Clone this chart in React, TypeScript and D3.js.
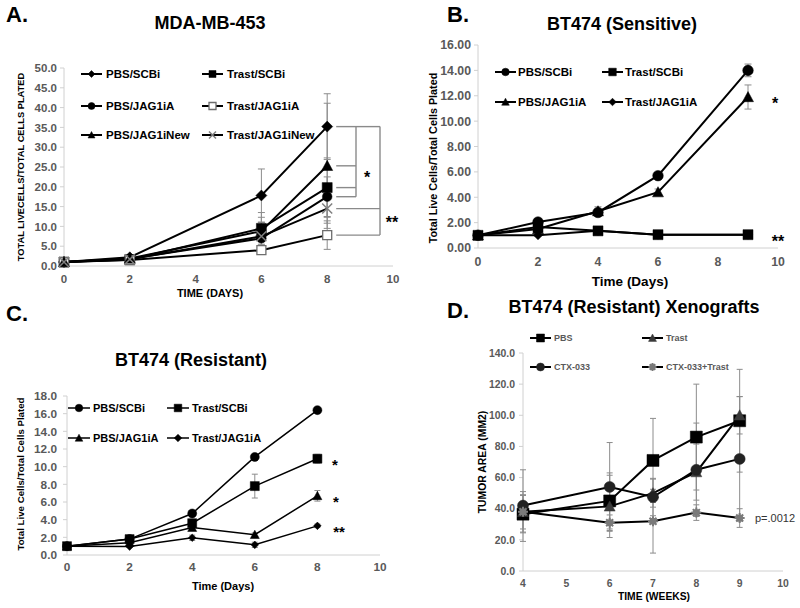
import React from 'react';
import * as d3 from 'd3';

// ---------- Panel A data (MDA-MB-453) ----------
const A_DAYS = [0, 2, 6, 8];
const A_LABELS = ['PBS/SCBi', 'Trast/SCBi', 'PBS/JAG1iA', 'Trast/JAG1iA', 'PBS/JAG1iNew', 'Trast/JAG1iNew'];
const A_PBS_SCBI = [1.0, 2.2, 17.8, 35.2];
const A_PBS_SCBI_ERR = [0.1, 0.3, 6.7, 8.3];
const A_TRAST_SCBI = [1.0, 1.6, 9.5, 19.8];
const A_TRAST_SCBI_ERR = [0.1, 0.2, 4.0, 7.5];
const A_PBS_JAG1IA = [1.0, 1.8, 7.0, 17.5];
const A_PBS_JAG1IA_ERR = [0.1, 0.2, 3.5, 5.0];
const A_TRAST_JAG1IA = [1.0, 1.5, 4.0, 7.8];
const A_TRAST_JAG1IA_ERR = [0.1, 0.1, 0.6, 3.6];
const A_PBS_JAG1INEW = [1.0, 1.9, 8.8, 25.3];
const A_PBS_JAG1INEW_ERR = [0.1, 0.2, 3.5, 15.8];
const A_TRAST_JAG1INEW = [1.0, 1.7, 7.5, 14.5];
const A_TRAST_JAG1INEW_ERR = [0.1, 0.2, 3.5, 3.7];
const A_Y_TICKS = [0, 5, 10, 15, 20, 25, 30, 35, 40, 45, 50];
const A_X_TICKS = [0, 2, 4, 6, 8, 10];

// ---------- Panel B data (BT474 Sensitive) ----------
const B_DAYS = [0, 2, 4, 6, 9];
const B_LABELS = ['PBS/SCBi', 'Trast/SCBi', 'PBS/JAG1iA', 'Trast/JAG1iA'];
const B_PBS_SCBI = [1.0, 2.05, 2.8, 5.7, 14.0];
const B_PBS_SCBI_ERR = [0.05, 0.1, 0.2, 0.15, 0.5];
const B_TRAST_SCBI = [1.0, 1.65, 1.35, 1.05, 1.05];
const B_TRAST_SCBI_ERR = [0.05, 0.05, 0.1, 0.05, 0.05];
const B_PBS_JAG1IA = [1.0, 1.5, 2.9, 4.4, 11.9];
const B_PBS_JAG1IA_ERR = [0.05, 0.1, 0.35, 0.25, 0.95];
const B_TRAST_JAG1IA = [1.0, 1.0, 1.35, 1.05, 1.05];
const B_TRAST_JAG1IA_ERR = [0.05, 0.05, 0.05, 0.05, 0.05];
const B_Y_TICKS = [0, 2, 4, 6, 8, 10, 12, 14, 16];
const B_X_TICKS = [0, 2, 4, 6, 8, 10];

// ---------- Panel C data (BT474 Resistant) ----------
const C_DAYS = [0, 2, 4, 6, 8];
const C_LABELS = ['PBS/SCBi', 'Trast/SCBi', 'PBS/JAG1iA', 'Trast/JAG1iA'];
const C_PBS_SCBI = [1.0, 1.8, 4.7, 11.1, 16.4];
const C_PBS_SCBI_ERR = [0.05, 0.1, 0.2, 0.2, 0.2];
const C_TRAST_SCBI = [1.0, 1.8, 3.6, 7.8, 10.9];
const C_TRAST_SCBI_ERR = [0.05, 0.15, 0.3, 1.35, 0.5];
const C_PBS_JAG1IA = [1.0, 1.4, 3.1, 2.3, 6.7];
const C_PBS_JAG1IA_ERR = [0.05, 0.1, 0.2, 0.2, 0.6];
const C_TRAST_JAG1IA = [1.0, 0.95, 1.95, 1.15, 3.3];
const C_TRAST_JAG1IA_ERR = [0.05, 0.1, 0.3, 0.3, 0.2];
const C_Y_TICKS = [0, 2, 4, 6, 8, 10, 12, 14, 16, 18];
const C_X_TICKS = [0, 2, 4, 6, 8, 10];

// ---------- Panel D data (BT474 Resistant Xenografts) ----------
const D_WEEKS = [4, 6, 7, 8, 9];
const D_LABELS = ['PBS', 'Trast', 'CTX-033', 'CTX-033+Trast'];
const D_PBS = [36.5, 45, 71, 86, 96.5];
const D_PBS_ERR = [12, 18, 27, 34, 33];
const D_TRAST = [38, 41.5, 50, 63.5, 100];
const D_TRAST_ERR = [11, 20, 9, 18, 12];
const D_CTX = [42, 54, 47.5, 65, 72];
const D_CTX_ERR = [23, 28.5, 12, 30, 40];
const D_CTX_TRAST = [38, 31, 32, 37.5, 34];
const D_CTX_TRAST_ERR = [13, 5, 20.5, 5, 6];
const D_Y_TICKS = [0, 20, 40, 60, 80, 100, 120, 140];
const D_X_TICKS = [4, 5, 6, 7, 8, 9, 10];

const FONT = 'Liberation Sans, Arial, Helvetica, sans-serif';
const TICK_COLOR = '#595959';
const AXIS_COLOR = '#d0d0d0';
const ERR_COLOR = '#8c8c8c';

type Sym = 'circle' | 'square' | 'openSquare' | 'triangle' | 'diamond' | 'x' | 'asterisk';

function markerPath(sym: Sym, r: number): string {
  switch (sym) {
    case 'circle':
      return d3.symbol().type(d3.symbolCircle).size(Math.PI * r * r)() as string;
    case 'square':
    case 'openSquare':
      return `M${-r},${-r}H${r}V${r}H${-r}Z`;
    case 'triangle':
      return `M0,${-r}L${r},${r * 0.85}L${-r},${r * 0.85}Z`;
    case 'diamond':
      return `M0,${-r}L${r},0L0,${r}L${-r},0Z`;
    case 'x':
      return `M${-r},${-r}L${r},${r}M${r},${-r}L${-r},${r}`;
    case 'asterisk':
      return `M${-r},0H${r}M0,${-r}V${r}M${-r * 0.7},${-r * 0.7}L${r * 0.7},${r * 0.7}M${r * 0.7},${-r * 0.7}L${-r * 0.7},${r * 0.7}`;
  }
}

function Marker({ sym, x, y, r, color }: { sym: Sym; x: number; y: number; r: number; color: string }) {
  const d = markerPath(sym, r);
  if (sym === 'x') {
    return <path d={d} transform={`translate(${x},${y})`} stroke={color} strokeWidth={1.5} fill="none" />;
  }
  if (sym === 'asterisk') {
    return (
      <g transform={`translate(${x},${y})`}>
        <circle r={r * 0.7} fill={color} />
        <path d={d} stroke={color} strokeWidth={2} fill="none" />
      </g>
    );
  }
  if (sym === 'openSquare') {
    return <path d={d} transform={`translate(${x},${y})`} stroke={color} strokeWidth={1.3} fill="#fff" />;
  }
  return <path d={d} transform={`translate(${x},${y})`} fill={color} stroke={color} strokeWidth={0.5} />;
}

interface Series {
  label: string;
  xs: number[];
  ys: number[];
  err: number[];
  sym: Sym;
  color: string;
  r: number;
}

interface LegendItem {
  idx: number;
  lx: number;
  ly: number;
}

interface PanelCfg {
  xDomain: [number, number];
  xRange: [number, number];
  yDomain: [number, number];
  yRange: [number, number];
  xTicks: number[];
  yTicks: number[];
  yFmt: string;
  tickSize: number;
  yLabelGap: number;
  xLabelDy: number;
  series: Series[];
  lineWidth: number;
  legend: LegendItem[];
  legendFont: number;
  legendLine: number;
  legendTextGap: number;
  legendR: number;
  legendColor: string;
  capW: number;
}

function Panel({ cfg }: { cfg: PanelCfg }) {
  const x = d3.scaleLinear().domain(cfg.xDomain).range(cfg.xRange);
  const y = d3.scaleLinear().domain(cfg.yDomain).range(cfg.yRange);
  const fmt = d3.format(cfg.yFmt);
  const line = d3.line<[number, number]>().x((d) => x(d[0])).y((d) => y(d[1]));
  const x0 = cfg.xRange[0];
  const y0 = cfg.yRange[0];
  return (
    <g>
      <line x1={x0} x2={x0} y1={cfg.yRange[0]} y2={cfg.yRange[1]} stroke={AXIS_COLOR} strokeWidth={1} />
      <line x1={x0} x2={cfg.xRange[1]} y1={y0} y2={y0} stroke={AXIS_COLOR} strokeWidth={1} />
      {cfg.yTicks.map((t) => (
        <g key={'y' + t}>
          <line x1={x0 - 4} x2={x0} y1={y(t)} y2={y(t)} stroke={AXIS_COLOR} />
          <text
            x={x0 - cfg.yLabelGap}
            y={y(t)}
            dy="0.36em"
            textAnchor="end"
            fontFamily={FONT}
            fontWeight="bold"
            fontSize={cfg.tickSize}
            fill={TICK_COLOR}
          >
            {fmt(t)}
          </text>
        </g>
      ))}
      {cfg.xTicks.map((t) => (
        <text
          key={'x' + t}
          x={x(t)}
          y={y0 + cfg.xLabelDy}
          textAnchor="middle"
          fontFamily={FONT}
          fontWeight="bold"
          fontSize={cfg.tickSize}
          fill={TICK_COLOR}
        >
          {t}
        </text>
      ))}
      {cfg.series.map((s, si) =>
        s.xs.map((xv, i) => {
          const e = s.err[i];
          if (!e) return null;
          const cx = x(xv);
          const top = y(s.ys[i] + e);
          const bot = y(Math.max(cfg.yDomain[0], s.ys[i] - e));
          return (
            <g key={`e${si}-${i}`} stroke={ERR_COLOR} strokeWidth={1}>
              <line x1={cx} x2={cx} y1={top} y2={bot} />
              <line x1={cx - cfg.capW} x2={cx + cfg.capW} y1={top} y2={top} />
              <line x1={cx - cfg.capW} x2={cx + cfg.capW} y1={bot} y2={bot} />
            </g>
          );
        })
      )}
      {cfg.series.map((s, si) => (
        <path
          key={'l' + si}
          d={line(s.xs.map((xv, i) => [xv, s.ys[i]] as [number, number])) as string}
          fill="none"
          stroke="#000"
          strokeWidth={cfg.lineWidth}
        />
      ))}
      {cfg.series.map((s, si) =>
        s.xs.map((xv, i) => <Marker key={`m${si}-${i}`} sym={s.sym} x={x(xv)} y={y(s.ys[i])} r={s.r} color={s.color} />)
      )}
      {cfg.legend.map((it) => {
        const s = cfg.series[it.idx];
        return (
          <g key={'lg' + it.idx}>
            <line x1={it.lx} x2={it.lx + cfg.legendLine} y1={it.ly} y2={it.ly} stroke="#000" strokeWidth={cfg.lineWidth} />
            <Marker sym={s.sym} x={it.lx + cfg.legendLine / 2} y={it.ly} r={cfg.legendR} color={s.color} />
            <text
              x={it.lx + cfg.legendLine + cfg.legendTextGap}
              y={it.ly}
              dy="0.36em"
              fontFamily={FONT}
              fontWeight="bold"
              fontSize={cfg.legendFont}
              fill={cfg.legendColor}
            >
              {s.label}
            </text>
          </g>
        );
      })}
    </g>
  );
}

function mk(label: string, xs: number[], ys: number[], err: number[], sym: Sym, color: string, r: number): Series {
  return { label, xs, ys, err, sym, color, r };
}

const panelA: PanelCfg = {
  xDomain: [0, 10],
  xRange: [64, 393],
  yDomain: [0, 50],
  yRange: [266, 68],
  xTicks: A_X_TICKS,
  yTicks: A_Y_TICKS,
  yFmt: '.1f',
  tickSize: 11.5,
  yLabelGap: 7,
  xLabelDy: 17,
  lineWidth: 2,
  capW: 3.5,
  series: [
    mk(A_LABELS[0], A_DAYS, A_PBS_SCBI, A_PBS_SCBI_ERR, 'diamond', '#000', 5.5),
    mk(A_LABELS[1], A_DAYS, A_TRAST_SCBI, A_TRAST_SCBI_ERR, 'square', '#000', 5),
    mk(A_LABELS[2], A_DAYS, A_PBS_JAG1IA, A_PBS_JAG1IA_ERR, 'circle', '#000', 4.8),
    mk(A_LABELS[3], A_DAYS, A_TRAST_JAG1IA, A_TRAST_JAG1IA_ERR, 'openSquare', '#6e6e6e', 4.5),
    mk(A_LABELS[4], A_DAYS, A_PBS_JAG1INEW, A_PBS_JAG1INEW_ERR, 'triangle', '#000', 5.5),
    mk(A_LABELS[5], A_DAYS, A_TRAST_JAG1INEW, A_TRAST_JAG1INEW_ERR, 'x', '#808080', 5),
  ],
  legend: [
    { idx: 0, lx: 81, ly: 74 },
    { idx: 1, lx: 202, ly: 74 },
    { idx: 2, lx: 81, ly: 106 },
    { idx: 3, lx: 202, ly: 106 },
    { idx: 4, lx: 81, ly: 135 },
    { idx: 5, lx: 202, ly: 135 },
  ],
  legendFont: 11.5,
  legendLine: 21,
  legendTextGap: 4,
  legendR: 3.5,
  legendColor: '#000',
};

const panelB: PanelCfg = {
  xDomain: [0, 10],
  xRange: [478, 778],
  yDomain: [0, 16],
  yRange: [248, 45],
  xTicks: B_X_TICKS,
  yTicks: B_Y_TICKS,
  yFmt: '.2f',
  tickSize: 12.3,
  yLabelGap: 7,
  xLabelDy: 18,
  lineWidth: 2,
  capW: 3.5,
  series: [
    mk(B_LABELS[0], B_DAYS, B_PBS_SCBI, B_PBS_SCBI_ERR, 'circle', '#000', 5.3),
    mk(B_LABELS[1], B_DAYS, B_TRAST_SCBI, B_TRAST_SCBI_ERR, 'square', '#000', 5),
    mk(B_LABELS[2], B_DAYS, B_PBS_JAG1IA, B_PBS_JAG1IA_ERR, 'triangle', '#000', 5.5),
    mk(B_LABELS[3], B_DAYS, B_TRAST_JAG1IA, B_TRAST_JAG1IA_ERR, 'diamond', '#000', 4.5),
  ],
  legend: [
    { idx: 0, lx: 495, ly: 72 },
    { idx: 1, lx: 602, ly: 72 },
    { idx: 2, lx: 495, ly: 102 },
    { idx: 3, lx: 602, ly: 102 },
  ],
  legendFont: 11.5,
  legendLine: 21,
  legendTextGap: 2,
  legendR: 3.8,
  legendColor: '#000',
};

const panelC: PanelCfg = {
  xDomain: [0, 10],
  xRange: [67, 380],
  yDomain: [0, 18],
  yRange: [555, 396],
  xTicks: C_X_TICKS,
  yTicks: C_Y_TICKS,
  yFmt: '.1f',
  tickSize: 11.8,
  yLabelGap: 10,
  xLabelDy: 16,
  lineWidth: 1.5,
  capW: 3,
  series: [
    mk(C_LABELS[0], C_DAYS, C_PBS_SCBI, C_PBS_SCBI_ERR, 'circle', '#000', 4.5),
    mk(C_LABELS[1], C_DAYS, C_TRAST_SCBI, C_TRAST_SCBI_ERR, 'square', '#000', 4.5),
    mk(C_LABELS[2], C_DAYS, C_PBS_JAG1IA, C_PBS_JAG1IA_ERR, 'triangle', '#000', 4.5),
    mk(C_LABELS[3], C_DAYS, C_TRAST_JAG1IA, C_TRAST_JAG1IA_ERR, 'diamond', '#000', 3.8),
  ],
  legend: [
    { idx: 0, lx: 68, ly: 408 },
    { idx: 1, lx: 167, ly: 408 },
    { idx: 2, lx: 68, ly: 438 },
    { idx: 3, lx: 167, ly: 438 },
  ],
  legendFont: 11,
  legendLine: 22,
  legendTextGap: 3,
  legendR: 3.8,
  legendColor: '#000',
};

const panelD: PanelCfg = {
  xDomain: [4, 10],
  xRange: [523, 783],
  yDomain: [0, 140],
  yRange: [571, 353],
  xTicks: D_X_TICKS,
  yTicks: D_Y_TICKS,
  yFmt: '.1f',
  tickSize: 10.4,
  yLabelGap: 8,
  xLabelDy: 16,
  lineWidth: 2,
  capW: 3,
  series: [
    mk(D_LABELS[0], D_WEEKS, D_PBS, D_PBS_ERR, 'square', '#000', 6),
    mk(D_LABELS[1], D_WEEKS, D_TRAST, D_TRAST_ERR, 'triangle', '#3a3a3a', 5.5),
    mk(D_LABELS[2], D_WEEKS, D_CTX, D_CTX_ERR, 'circle', '#222', 5.5),
    mk(D_LABELS[3], D_WEEKS, D_CTX_TRAST, D_CTX_TRAST_ERR, 'asterisk', '#7a7a7a', 5),
  ],
  legend: [
    { idx: 0, lx: 530, ly: 338 },
    { idx: 1, lx: 642, ly: 338 },
    { idx: 2, lx: 530, ly: 367 },
    { idx: 3, lx: 642, ly: 367 },
  ],
  legendFont: 9,
  legendLine: 21,
  legendTextGap: 3,
  legendR: 4,
  legendColor: '#595959',
};

function T({ x, y, s, size, anchor = 'middle', rotate = false, weight = 'bold', color = '#000' }: any) {
  return (
    <text
      x={rotate ? 0 : x}
      y={rotate ? 0 : y}
      transform={rotate ? `translate(${x},${y}) rotate(-90)` : undefined}
      textAnchor={anchor}
      dy={rotate ? '0.35em' : undefined}
      fontFamily={FONT}
      fontWeight={weight}
      fontSize={size}
      fill={color}
    >
      {s}
    </text>
  );
}

function Brackets() {
  const y = d3.scaleLinear().domain(panelA.yDomain).range(panelA.yRange);
  const xs = d3.scaleLinear().domain(panelA.xDomain).range(panelA.xRange);
  const start = xs(8) + 9;
  const v1 = 356;
  const v2 = 380;
  const topY = y(A_PBS_SCBI[3]);
  const one = [A_PBS_SCBI[3], A_PBS_JAG1INEW[3], A_TRAST_SCBI[3], A_PBS_JAG1IA[3]].map((v) => y(v));
  const two = [A_TRAST_JAG1INEW[3], A_TRAST_JAG1IA[3]].map((v) => y(v));
  const st = { stroke: '#8a8a8a', strokeWidth: 1.4, fill: 'none' };
  return (
    <g>
      {one.map((yy, i) => (
        <line key={'b1' + i} x1={start} x2={v1} y1={yy} y2={yy} {...st} />
      ))}
      <line x1={v1} x2={v1} y1={topY} y2={one[3]} {...st} />
      <line x1={v1} x2={v2} y1={topY} y2={topY} {...st} />
      {two.map((yy, i) => (
        <line key={'b2' + i} x1={start} x2={v2} y1={yy} y2={yy} {...st} />
      ))}
      <line x1={v2} x2={v2} y1={topY} y2={two[1]} {...st} />
      <T x={367} y={183} s="*" size={16} />
      <T x={392} y={228} s="**" size={16} />
    </g>
  );
}

export default function App() {
  const yB = d3.scaleLinear().domain(panelB.yDomain).range(panelB.yRange);
  const yC = d3.scaleLinear().domain(panelC.yDomain).range(panelC.yRange);
  const yD = d3.scaleLinear().domain(panelD.yDomain).range(panelD.yRange);
  return (
    <svg
      width={800}
      height={608}
      viewBox="0 0 800 608"
      style={{ position: 'absolute', left: 0, top: 0, background: '#fff' }}
    >
      <rect width={800} height={608} fill="#fff" />
      {/* Panel A */}
      <T x={6} y={22} s="A." size={22} anchor="start" />
      <T x={210} y={29} s="MDA-MB-453" size={18} />
      <T x={21} y={167} s="TOTAL LIVECELLS/TOTAL CELLS PLATED" size={9.3} rotate />
      <T x={210} y={297} s="TIME (DAYS)" size={11} />
      <Panel cfg={panelA} />
      <Brackets />

      {/* Panel B */}
      <T x={447} y={22} s="B." size={22} anchor="start" />
      <T x={622} y={30} s="BT474 (Sensitive)" size={18} />
      <T x={433} y={158} s="Total Live Cells/Total Cells Plated" size={10.8} rotate />
      <T x={630} y={286} s="Time (Days)" size={13.5} />
      <Panel cfg={panelB} />
      <T x={775} y={yB(B_PBS_JAG1IA[4]) + 12} s="*" size={16} />
      <T x={778} y={yB(B_TRAST_SCBI[4]) + 12} s="**" size={16} />

      {/* Panel C */}
      <T x={6} y={321} s="C." size={22} anchor="start" />
      <T x={191} y={366} s="BT474 (Resistant)" size={18} />
      <T x={21} y={474} s="Total Live Cells/Total Cells Plated" size={9.7} rotate />
      <T x={223} y={590} s="Time (Days)" size={11} />
      <Panel cfg={panelC} />
      <T x={335} y={yC(C_TRAST_SCBI[4]) + 11} s="*" size={15} />
      <T x={336} y={yC(C_PBS_JAG1IA[4]) + 11} s="*" size={15} />
      <T x={339} y={yC(C_TRAST_JAG1IA[4]) + 11} s="**" size={15} />

      {/* Panel D */}
      <T x={447} y={318} s="D." size={22} anchor="start" />
      <T x={634} y={313} s="BT474  (Resistant) Xenografts" size={18} />
      <T x={482} y={462} s="TUMOR AREA (MM2)" size={10.4} rotate />
      <T x={654} y={600} s="TIME (WEEKS)" size={10.3} />
      <Panel cfg={panelD} />
      <T x={755} y={yD(D_CTX_TRAST[4]) + 4} s="p=.0012" size={11} anchor="start" weight="normal" color="#333" />
    </svg>
  );
}
